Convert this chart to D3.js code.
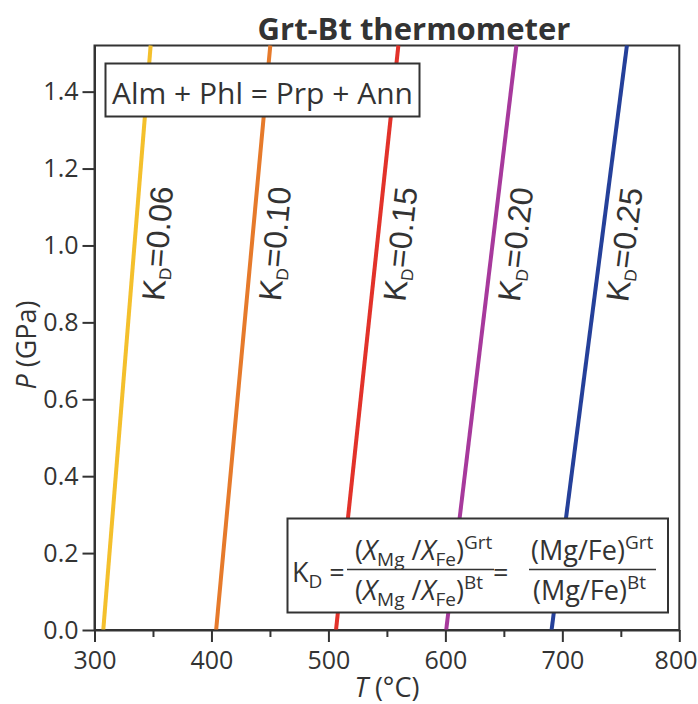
<!DOCTYPE html>
<html>
<head>
<meta charset="utf-8">
<script src="https://cdn.jsdelivr.net/npm/d3@7"></script>
<style>
  html, body { margin: 0; padding: 0; background: #ffffff; }
  svg { display: block; }
</style>
</head>
<body>
<svg id="chart" width="698" height="704"></svg>
<script>
// Garnet–biotite Fe–Mg exchange isopleths in P–T space
const kdLabels   = ["0.06", "0.10", "0.15", "0.20", "0.25"];
const tempAtBase = [307.5, 404.0, 506.5, 600.7, 690.8];   // T (°C) at P = 0 GPa
const tempAtTop  = [348.0, 450.3, 559.8, 660.7, 755.2];   // T (°C) at P = 1.52 GPa
const lineColors = ["#f4c02c", "#e67a2b", "#e2322a", "#a7399c", "#25409a"];
const pressureEnds = [0, 1.52];
const xTickValues = [300, 400, 500, 600, 700, 800];
const xMinorTicks = [350, 450, 550, 650, 750];
const yTickValues = [0, 0.2, 0.4, 0.6, 0.8, 1.0, 1.2, 1.4];
const labelPressure = 1.01;

const svg = d3.select("#chart");
const ink = "#333333";
const frame = { left: 94.5, right: 679.3, top: 45.5, bottom: 630 };

const x = d3.scaleLinear().domain([300, 800]).range([frame.left, frame.right]);
const y = d3.scaleLinear().domain(pressureEnds).range([frame.bottom, frame.top]);

// Title
svg.append("text")
  .attr("x", 414).attr("y", 40)
  .attr("text-anchor", "middle")
  .attr("font-family", "'Open Sans', sans-serif")
  .attr("font-weight", "bold")
  .attr("font-size", 31)
  .attr("fill", ink)
  .text("Grt-Bt thermometer");

// Plot frame
svg.append("rect")
  .attr("x", frame.left).attr("y", frame.top)
  .attr("width", frame.right - frame.left)
  .attr("height", frame.bottom - frame.top)
  .attr("fill", "none")
  .attr("stroke", ink)
  .attr("stroke-width", 2);

// Isopleths
const lineGen = d3.line().x(d => x(d.t)).y(d => y(d.p));
const series = kdLabels.map((kd, i) => ({
  kd,
  color: lineColors[i],
  pts: [{ t: tempAtBase[i], p: pressureEnds[0] }, { t: tempAtTop[i], p: pressureEnds[1] }]
}));

svg.append("g").selectAll("path")
  .data(series)
  .join("path")
  .attr("d", d => lineGen(d.pts))
  .attr("fill", "none")
  .attr("stroke", d => d.color)
  .attr("stroke-width", 4);

// KD labels running along each line
series.forEach(s => {
  const [a, b] = s.pts;
  const frac = (labelPressure - a.p) / (b.p - a.p);
  const tl = a.t + frac * (b.t - a.t);
  const px = x(tl), py = y(labelPressure);
  const ang = Math.atan2(y(b.p) - y(a.p), x(b.t) - x(a.t)) * 180 / Math.PI;
  const txt = svg.append("text")
    .attr("transform", `translate(${px},${py}) rotate(${ang})`)
    .attr("x", 0).attr("y", 34)
    .attr("text-anchor", "middle")
    .attr("font-family", "'Liberation Sans', Arial, sans-serif")
    .attr("font-size", 32)
    .attr("fill", ink);
  txt.append("tspan").text("K");
  txt.append("tspan").attr("font-size", 17).attr("dy", 5).text("D");
  txt.append("tspan").attr("dy", -5).text("=" + s.kd);
});

// Axes
const axisFont = "'Open Sans', sans-serif";
const xAxis = svg.append("g")
  .attr("transform", `translate(0,${frame.bottom})`)
  .call(d3.axisBottom(x).tickValues(xTickValues).tickSize(12).tickSizeOuter(0).tickPadding(9).tickFormat(d3.format("d")));
const xMinor = svg.append("g")
  .attr("transform", `translate(0,${frame.bottom})`)
  .call(d3.axisBottom(x).tickValues(xMinorTicks).tickSize(7).tickSizeOuter(0).tickFormat(""));
const yAxis = svg.append("g")
  .attr("transform", `translate(${frame.left},0)`)
  .call(d3.axisLeft(y).tickValues(yTickValues).tickSize(12).tickSizeOuter(0).tickPadding(4).tickFormat(d3.format(".1f")));

[xAxis, xMinor, yAxis].forEach(g => {
  g.select(".domain").attr("stroke", ink).attr("stroke-width", 2);
  g.selectAll(".tick line").attr("stroke", ink).attr("stroke-width", 2);
  g.selectAll(".tick text")
    .attr("font-family", axisFont)
    .attr("font-size", 25)
    .attr("fill", ink);
});
xMinor.select(".domain").remove();
// keep the last tick label inside the page edge
xAxis.selectAll(".tick text")
  .filter(d => d === 800)
  .attr("text-anchor", "end")
  .attr("dx", 697 - x(800));

// Axis titles
const xTitle = svg.append("text")
  .attr("x", (frame.left + frame.right) / 2).attr("y", 697)
  .attr("text-anchor", "middle")
  .attr("font-family", axisFont)
  .attr("font-size", 27)
  .attr("fill", ink);
xTitle.append("tspan").attr("font-style", "italic").text("T");
xTitle.append("tspan").text(" (°C)");

const yTitle = svg.append("text")
  .attr("transform", "translate(36,345) rotate(-90)")
  .attr("text-anchor", "middle")
  .attr("font-family", axisFont)
  .attr("font-size", 27)
  .attr("fill", ink);
yTitle.append("tspan").attr("font-style", "italic").text("P");
yTitle.append("tspan").text(" (GPa)");

// Reaction box
svg.append("rect")
  .attr("x", 105.5).attr("y", 63.5)
  .attr("width", 314).attr("height", 53)
  .attr("fill", "#ffffff")
  .attr("stroke", ink)
  .attr("stroke-width", 2);
svg.append("text")
  .attr("x", 262.5).attr("y", 104)
  .attr("text-anchor", "middle")
  .attr("font-family", axisFont)
  .attr("font-size", 30)
  .attr("fill", ink)
  .text("Alm + Phl = Prp + Ann");

// KD definition box
svg.append("rect")
  .attr("x", 287.5).attr("y", 518.5)
  .attr("width", 380.5).attr("height", 94)
  .attr("fill", "#ffffff")
  .attr("stroke", ink)
  .attr("stroke-width", 2);

const fBase = 27, fScript = 19;
function richText(x0, y0, parts) {
  const t = svg.append("text")
    .attr("x", x0).attr("y", y0)
    .attr("font-family", axisFont)
    .attr("font-size", fBase)
    .attr("fill", ink);
  let cur = 0;
  parts.forEach(p => {
    const off = p.pos === "sub" ? 6 : p.pos === "sup" ? -11 : 0;
    const ts = t.append("tspan").attr("dy", off - cur).text(p.t);
    cur = off;
    if (p.pos) ts.attr("font-size", fScript);
    if (p.it) ts.attr("font-style", "italic");
  });
  return t;
}

richText(292, 582, [{ t: "K" }, { t: "D", pos: "sub" }, { t: " =" }]);
richText(355, 560, [{ t: "(" }, { t: "X", it: true }, { t: "Mg", pos: "sub" }, { t: " /" },
  { t: "X", it: true }, { t: "Fe", pos: "sub" }, { t: ")" }, { t: "Grt", pos: "sup" }]);
richText(355, 600, [{ t: "(" }, { t: "X", it: true }, { t: "Mg", pos: "sub" }, { t: " /" },
  { t: "X", it: true }, { t: "Fe", pos: "sub" }, { t: ")" }, { t: "Bt", pos: "sup" }]);
richText(493, 582, [{ t: "=" }]);
richText(531, 560, [{ t: "(Mg/Fe)" }, { t: "Grt", pos: "sup" }]);
richText(533, 600, [{ t: "(Mg/Fe)" }, { t: "Bt", pos: "sup" }]);

[[347, 494], [529, 656]].forEach(([a, b]) => {
  svg.append("line")
    .attr("x1", a).attr("x2", b)
    .attr("y1", 569.5).attr("y2", 569.5)
    .attr("stroke", ink).attr("stroke-width", 1.5);
});
</script>
</body>
</html>
